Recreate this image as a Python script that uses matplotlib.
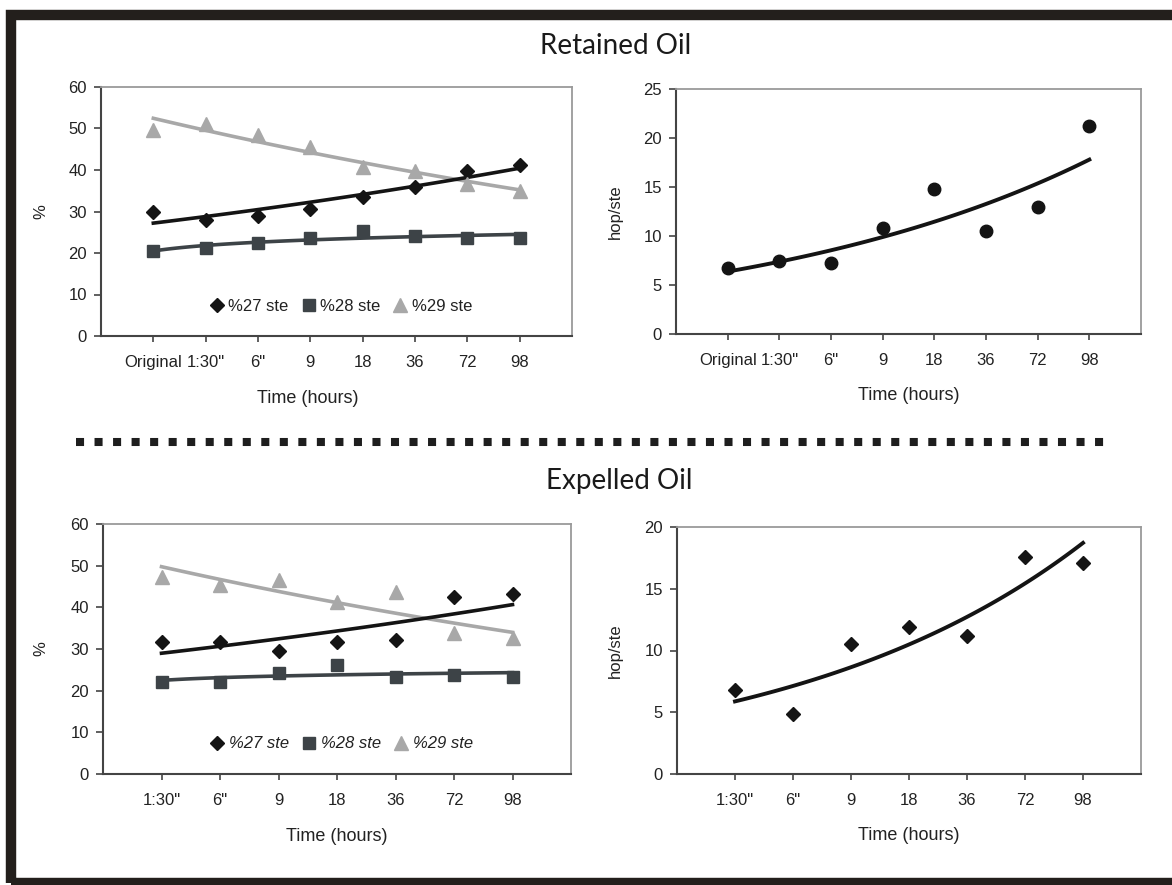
import numpy as np
import matplotlib.pyplot as plt
from matplotlib.lines import Line2D
from matplotlib.patches import Rectangle

plt.rcParams['font.family'] = ['Liberation Sans', 'DejaVu Sans']

# x categories (time)
ret_labels = ['Original', '1:30"', '6"', '9', '18', '36', '72', '98']
exp_labels = ['1:30"', '6"', '9', '18', '36', '72', '98']

# Retained oil
ret_c27 = [29.8, 28.0, 29.0, 30.6, 33.6, 35.9, 39.8, 41.2]
ret_c28 = [20.4, 21.3, 22.4, 23.6, 25.3, 24.1, 23.6, 23.6]
ret_c29 = [49.6, 51.0, 48.4, 45.6, 40.8, 39.8, 36.7, 35.0]
ret_hop = [6.7, 7.4, 7.2, 10.8, 14.8, 10.5, 13.0, 21.2]

# Expelled oil
exp_c27 = [31.8, 31.8, 29.6, 31.8, 32.2, 42.4, 43.2]
exp_c28 = [22.2, 22.2, 24.2, 26.2, 23.4, 23.8, 23.4]
exp_c29 = [47.4, 45.4, 46.5, 41.4, 43.6, 33.8, 32.6]
exp_hop = [6.8, 4.85, 10.55, 11.9, 11.2, 17.6, 17.1]

black = '#141414'
dark = '#3d4347'
light = '#a8a8a8'


# excel style trendlines
def exp_trend(y):
    x = np.arange(1, len(y) + 1)
    b, a = np.polyfit(x, np.log(y), 1)
    xs = np.linspace(1, len(y), 100)
    return xs, np.exp(a + b * xs)


def log_trend(y):
    x = np.arange(1, len(y) + 1)
    b, a = np.polyfit(np.log(x), y, 1)
    xs = np.linspace(1, len(y), 100)
    return xs, a + b * np.log(xs)


def style_axis(ax, labels, ymax, ystep, ylabel, ylab_x, xlab_x=0.5):
    n = len(labels)
    ax.set_xlim(0, n + 1)
    ax.set_ylim(0, ymax)
    ax.set_xticks(range(1, n + 1))
    ax.set_xticklabels(labels)
    ax.set_yticks(np.arange(0, ymax + 1, ystep))
    for s in ['top', 'right']:
        ax.spines[s].set_color('#9a9a9a')
        ax.spines[s].set_linewidth(1.3)
    for s in ['left', 'bottom']:
        ax.spines[s].set_color('#444444')
        ax.spines[s].set_linewidth(1.5)
    ax.tick_params(axis='x', length=4, width=1.2, pad=10, labelsize=12,
                   color='#444444', labelcolor='#222222')
    ax.tick_params(axis='y', length=5, width=1.2, pad=5, labelsize=12,
                   color='#444444', labelcolor='#222222')
    ax.set_ylabel(ylabel, fontsize=12, color='#222222')
    ax.yaxis.set_label_coords(ylab_x, 0.5)
    ax.set_xlabel('Time (hours)', fontsize=13, color='#222222')
    ax.xaxis.set_label_coords(xlab_x, -0.215)


def sterane_panel(ax, labels, c27, c28, c29, italic):
    x = np.arange(1, len(labels) + 1)
    ax.plot(*exp_trend(c29), color=light, lw=2.6, zorder=2)
    ax.plot(*exp_trend(c27), color=black, lw=2.6, zorder=3)
    ax.plot(*log_trend(c28), color=dark, lw=2.6, zorder=3)
    ax.plot(x, c27, 'D', color=black, ms=7, label='%27 ste', zorder=4)
    ax.plot(x, c28, 's', color=dark, ms=9, label='%28 ste', zorder=4)
    ax.plot(x, c29, '^', color=light, ms=10, label='%29 ste', zorder=4)
    leg = ax.legend(loc='center', bbox_to_anchor=(0.51, 0.12), ncol=3,
                    frameon=False, handlelength=0.8, handletextpad=0.3,
                    columnspacing=0.8, fontsize=12)
    for t in leg.get_texts():
        t.set_color('#222222')
        if italic:
            t.set_style('italic')


fig = plt.figure(figsize=(11.72, 8.85), dpi=100)
W, H = 1172.0, 885.0


def add_ax(left, right, top, bottom):
    return fig.add_axes([left / W, 1 - bottom / H, (right - left) / W, (bottom - top) / H])


ax1 = add_ax(101, 572, 87, 336)
ax2 = add_ax(676, 1141, 89, 334)
ax3 = add_ax(103, 571, 524, 774)
ax4 = add_ax(677, 1141, 527, 774)

# Retained oil
sterane_panel(ax1, ret_labels, ret_c27, ret_c28, ret_c29, italic=False)
style_axis(ax1, ret_labels, 60, 10, '%', -0.112, xlab_x=0.44)

x = np.arange(1, len(ret_labels) + 1)
ax2.plot(*exp_trend(ret_hop), color=black, lw=2.8)
ax2.plot(x, ret_hop, 'o', color=black, ms=9)
style_axis(ax2, ret_labels, 25, 5, 'hop/ste', -0.115)

# Expelled oil
sterane_panel(ax3, exp_labels, exp_c27, exp_c28, exp_c29, italic=True)
style_axis(ax3, exp_labels, 60, 10, '%', -0.117)

x = np.arange(1, len(exp_labels) + 1)
ax4.plot(*exp_trend(exp_hop), color=black, lw=2.8)
ax4.plot(x, exp_hop, 'D', color=black, ms=7)
style_axis(ax4, exp_labels, 20, 5, 'hop/ste', -0.116)

# section titles
fig.text(616 / W, 1 - 46 / H, 'Retained Oil', ha='center', va='center',
         fontsize=20, family=['Lato', 'DejaVu Sans'], color='#1a1a1a')
fig.text(619 / W, 1 - 481 / H, 'Expelled Oil', ha='center', va='center',
         fontsize=20, family=['Lato', 'DejaVu Sans'], color='#1a1a1a')

# dotted separator
fig.add_artist(Line2D([76 / W, 1110 / W], [1 - 442 / H, 1 - 442 / H],
                      color='#1e1e1e', lw=5.8, linestyle=(0, (1, 1.3)),
                      dash_capstyle='butt', solid_capstyle='butt'))

# outer frame
fig.add_artist(Rectangle((11 / W, 1 - 883 / H), 1.2, (883 - 14.5) / H,
                         transform=fig.transFigure, fill=False,
                         edgecolor='#231f1c', lw=7.5))

fig.savefig('out.png', dpi=100)
